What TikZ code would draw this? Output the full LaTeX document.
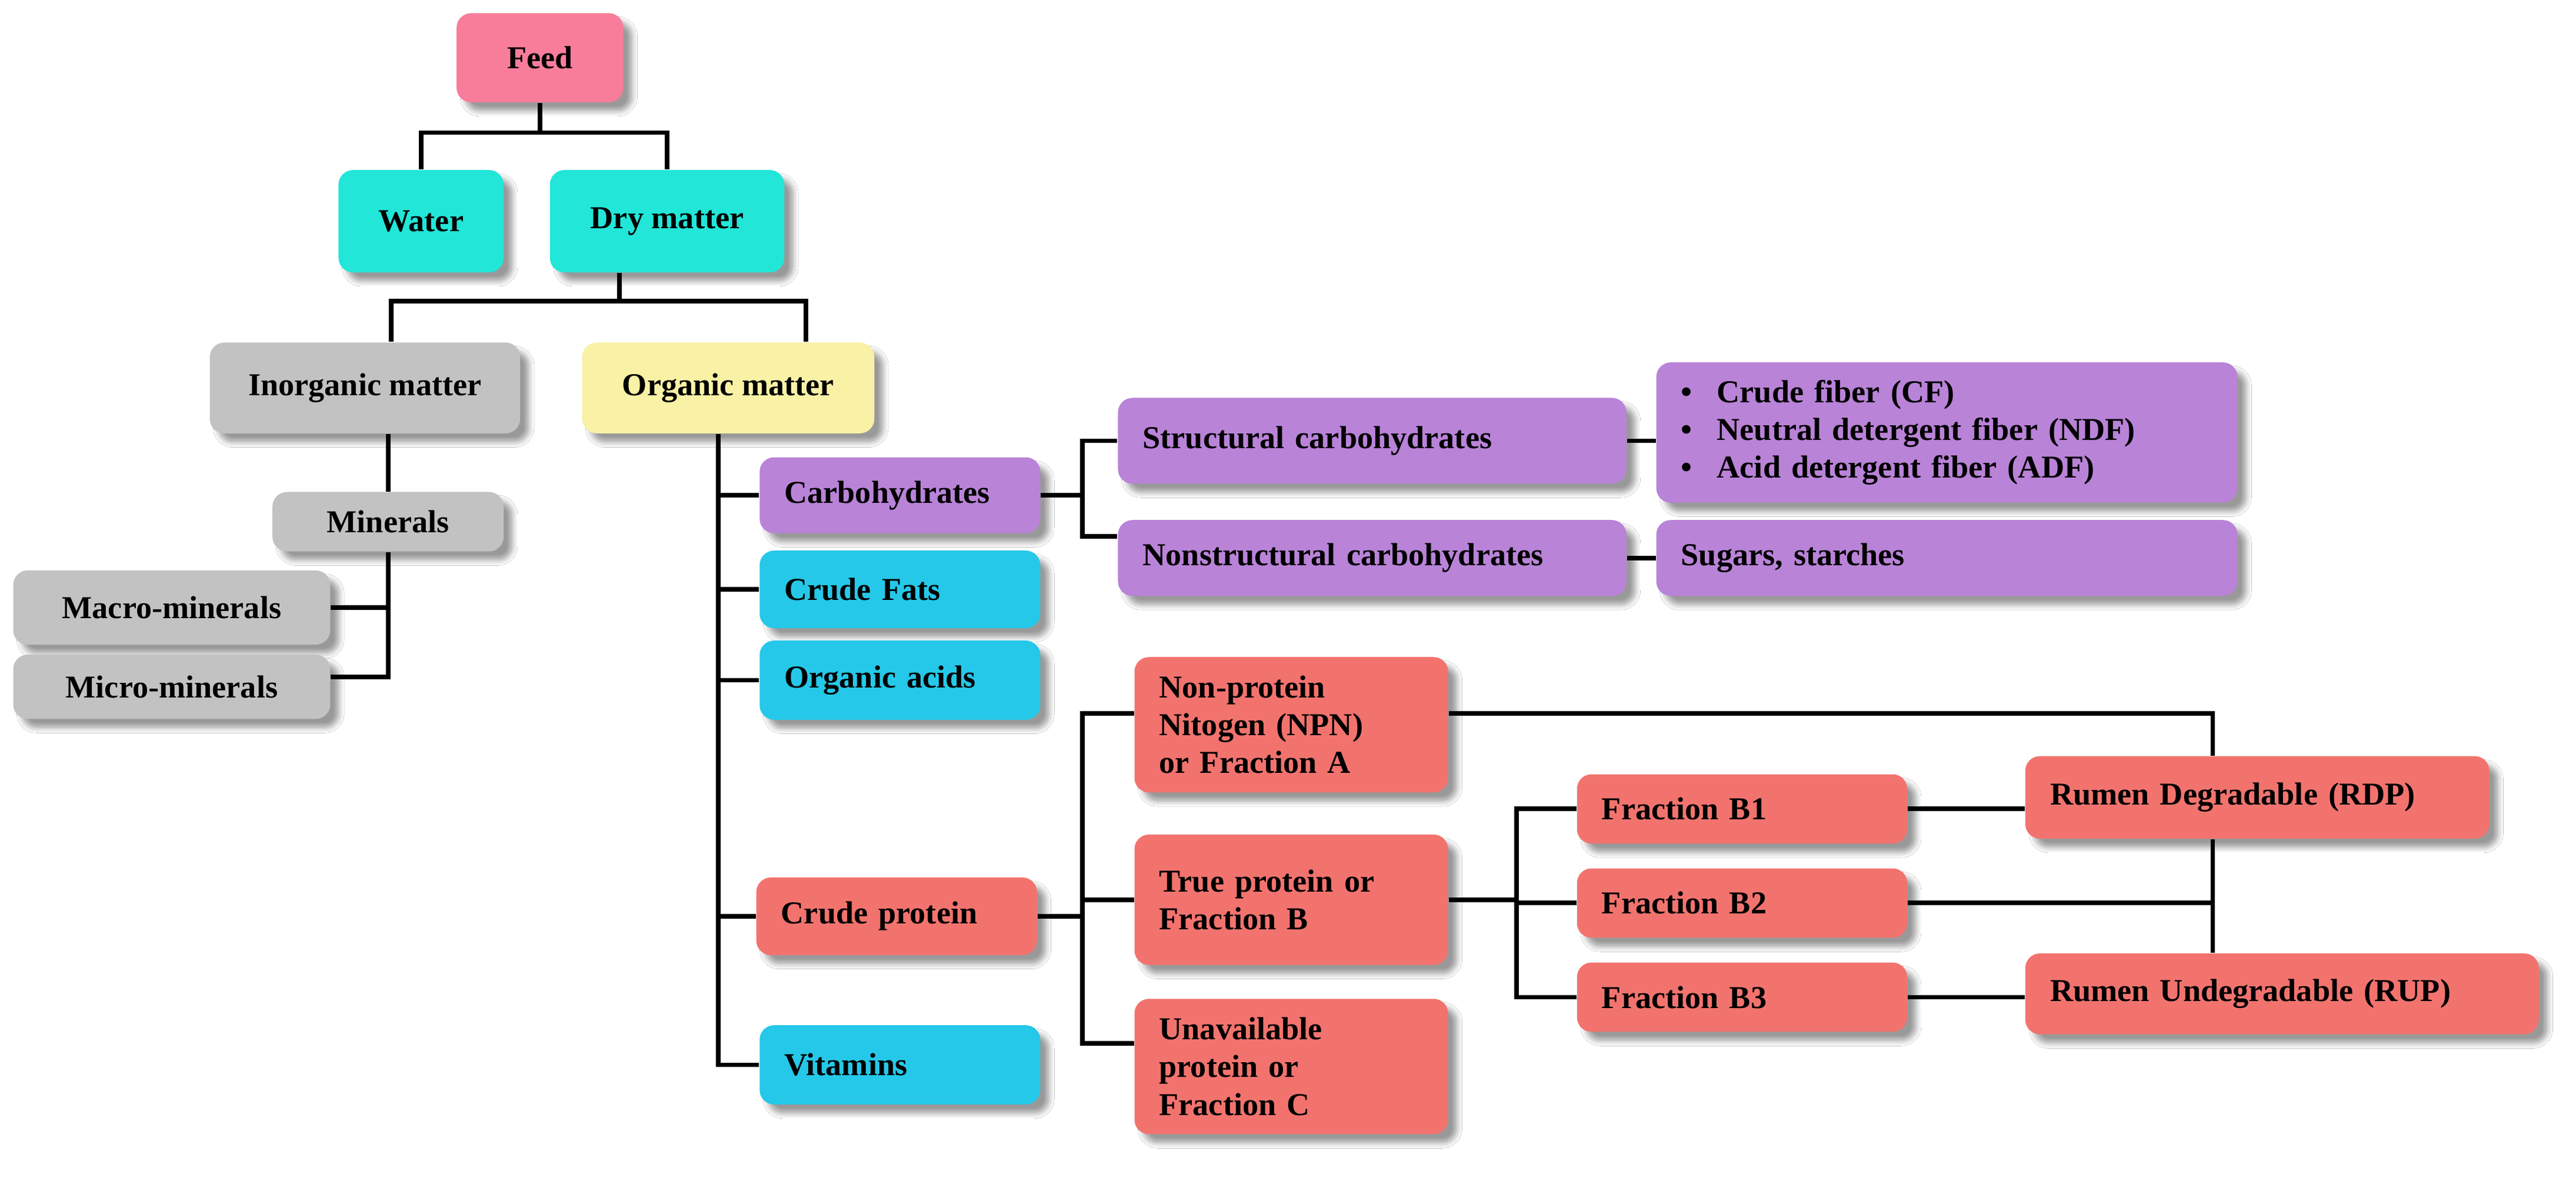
\documentclass[tikz,border=0pt]{standalone}
\usepackage{fontspec}
\setmainfont{Liberation Serif}
\usetikzlibrary{shadows.blur}
\definecolor{cpink}{HTML}{F77D9B}
\definecolor{cteal}{HTML}{22E6D8}
\definecolor{cgray}{HTML}{C2C2C2}
\definecolor{cyell}{HTML}{F9F1A5}
\definecolor{cpurp}{HTML}{B983D8}
\definecolor{cblue}{HTML}{25C8E8}
\definecolor{cred}{HTML}{F2736E}
\begin{document}
\begin{tikzpicture}[x=0.02cm,y=0.02cm,
  box/.style={rounded corners=5pt, inner xsep=0.3cm, inner ysep=2pt,
    font=\fontsize{11}{13}\selectfont\bfseries,
    blur shadow={shadow xshift=3pt, shadow yshift=-3pt, shadow blur steps=8, shadow opacity=40}},
  c/.style n args={2}{box, align=center, minimum width=#1cm, minimum height=#2cm},
  l/.style n args={2}{box, align=left, text width=#1cm, minimum height=#2cm},
  ln/.style={line width=1.6pt}]
\useasboundingbox (0,0) rectangle (1560,-715);
\fill[white] (0,0) rectangle (1560,-715);

\node[c={2.02}{1.08}, fill=cpink] (feed) at (327,-35) {Feed};
\node[c={2.0}{1.24}, fill=cteal] (water) at (255,-134) {Water};
\node[c={2.84}{1.24}, fill=cteal] (dry) at (404,-134) {Dry matter};
\node[c={3.76}{1.1}, fill=cgray] (inorg) at (221,-235) {Inorganic matter};
\node[c={3.54}{1.1}, fill=cyell] (org) at (441,-235) {Organic matter};
\node[c={2.8}{0.72}, fill=cgray] (minerals) at (235,-316) {Minerals};
\node[c={3.84}{0.9}, fill=cgray] (macro) at (104,-368) {Macro-minerals};
\node[c={3.84}{0.78}, fill=cgray] (micro) at (104,-416) {Micro-minerals};

\node[l={2.8}{0.92}, fill=cpurp] (carb) at (545,-300) {Carbohydrates};
\node[l={2.8}{0.94}, fill=cblue] (fats) at (545,-357) {Crude Fats};
\node[l={2.8}{0.96}, fill=cblue] (acids) at (545,-412) {Organic acids};
\node[l={2.8}{0.94}, fill=cred] (cp) at (543,-555) {Crude protein};
\node[l={2.8}{0.96}, fill=cblue] (vit) at (545,-645) {Vitamins};

\node[l={5.56}{1.04}, fill=cpurp] (struct) at (831,-267) {Structural carbohydrates};
\node[l={5.56}{0.92}, fill=cpurp] (nonstruct) at (831,-338) {Nonstructural carbohydrates};
\node[l={6.44}{1.7}, fill=cpurp] (list) at (1179,-262)
  {\textbullet\hspace{0.3cm}Crude fiber (CF)\\ \textbullet\hspace{0.3cm}Neutral detergent fiber (NDF)\\ \textbullet\hspace{0.3cm}Acid detergent fiber (ADF)};
\node[l={6.44}{0.92}, fill=cpurp] (sugars) at (1179,-338) {Sugars, starches};

\node[l={3.2}{1.64}, fill=cred] (npn) at (782,-439) {Non-protein\\Nitogen (NPN)\\or Fraction A};
\node[l={3.2}{1.58}, fill=cred] (true) at (782,-545) {True protein or\\Fraction B};
\node[l={3.2}{1.64}, fill=cred] (unav) at (782,-646) {Unavailable\\protein or\\Fraction C};

\node[l={3.4}{0.84}, fill=cred] (b1) at (1055,-490) {Fraction B1};
\node[l={3.4}{0.84}, fill=cred] (b2) at (1055,-547) {Fraction B2};
\node[l={3.4}{0.84}, fill=cred] (b3) at (1055,-604) {Fraction B3};
\node[l={5.02}{1.0}, fill=cred] (rdp) at (1367,-483) {Rumen Degradable (RDP)};
\node[l={5.62}{0.98}, fill=cred] (rup) at (1382,-602) {Rumen Undegradable (RUP)};

\begin{scope}[on background layer/.style={}]
\draw[ln] (feed.south) -- ++(0,-18) -| (water.north);
\draw[ln] (feed.south) -- ++(0,-18) -| (dry.north);
\draw[ln] ([xshift=-0.58cm]dry.south) -- ++(0,-17) -| ([xshift=0.32cm]inorg.north);
\draw[ln] ([xshift=-0.58cm]dry.south) -- ++(0,-17) -| ([xshift=0.94cm]org.north);
\draw[ln] (minerals.north) -- (minerals.north |- inorg.south);
\draw[ln] (macro.east) -| (minerals.south);
\draw[ln] (minerals.south) |- ([yshift=0.12cm]micro.east);
\draw[ln] ([xshift=-0.12cm]org.south) |- (vit.west);
\draw[ln] (carb.west) -| ([xshift=-0.12cm]org.south);
\draw[ln] (fats.west) -| ([xshift=-0.12cm]org.south);
\draw[ln] (acids.west) -| ([xshift=-0.12cm]org.south);
\draw[ln] (cp.west) -| ([xshift=-0.12cm]org.south);
\draw[ln] (carb.east) -- ++(25,0) |- (struct.west);
\draw[ln] (carb.east) -- ++(25,0) |- ([yshift=0.26cm]nonstruct.west);
\draw[ln] (struct.east) -- (struct.east -| list.west);
\draw[ln] (nonstruct.east) -- (sugars.west);
\draw[ln] (cp.east) -- ++(27,0) |- ([yshift=0.14cm]npn.west);
\draw[ln] (cp.east) -- ++(27,0) |- (true.west);
\draw[ln] (cp.east) -- ++(27,0) |- ([yshift=0.28cm]unav.west);
\draw[ln] ([yshift=0.14cm]npn.east) -| ([xshift=-0.54cm]rdp.north);
\draw[ln] (true.east) -- ++(41,0) |- (b1.west);
\draw[ln] (true.east) -- ++(41,0) |- (b2.west);
\draw[ln] (true.east) -- ++(41,0) |- (b3.west);
\draw[ln] (b1.east) -- (b1.east -| rdp.west);
\draw[ln] (b3.east) -- (b3.east -| rup.west);
\coordinate (vx) at ([xshift=-0.54cm]rdp.south);
\draw[ln] (b2.east) -- (b2.east -| vx);
\draw[ln] (vx) -- (vx |- rup.north);
\end{scope}
\end{tikzpicture}
\end{document}
